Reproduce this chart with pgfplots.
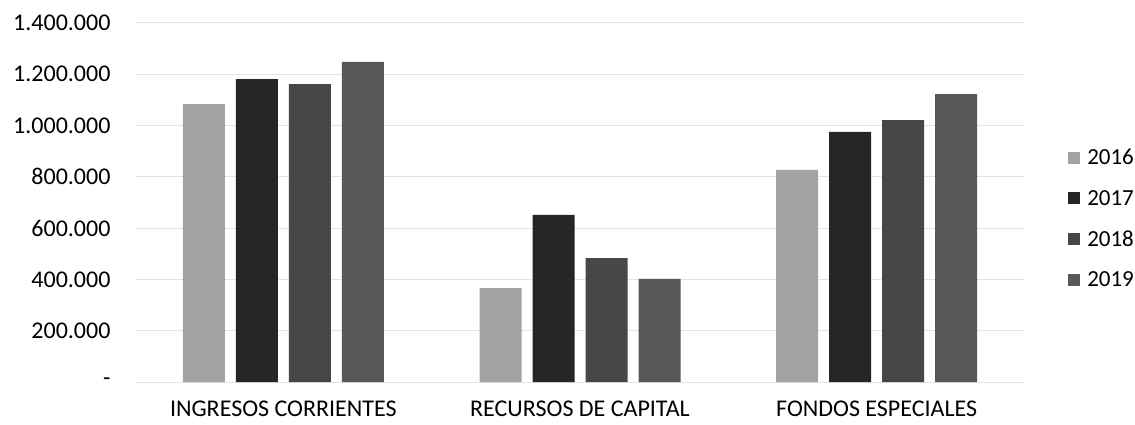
\documentclass[border=0pt]{standalone}
\usepackage{fontspec}
\setmainfont{Carlito}
\usepackage{pgfplots}
\pgfplotsset{compat=1.18}
\definecolor{c16}{HTML}{A3A3A3}
\definecolor{c17}{HTML}{262626}
\definecolor{c18}{HTML}{474747}
\definecolor{c19}{HTML}{585858}
\definecolor{gridc}{HTML}{E4E4E4}
\begin{document}
\begin{tikzpicture}
\begin{axis}[
  at={(0,0)}, anchor=south west,
  scale only axis, width=890pt, height=359pt,
  ybar=11pt, bar width=42pt,
  xmin=-0.5, xmax=2.5, ymin=0, ymax=1400000,
  xtick={0,1,2},
  xticklabels={\textnormal{INGRESOS CORRIENTES},\textnormal{RECURSOS DE CAPITAL},\textnormal{FONDOS ESPECIALES}},
  ytick={0,200000,400000,600000,800000,1000000,1200000,1400000},
  yticklabels={\textnormal{-},\textnormal{200.000},\textnormal{400.000},\textnormal{600.000},\textnormal{800.000},\textnormal{1.000.000},\textnormal{1.200.000},\textnormal{1.400.000}},
  scaled y ticks=false,
  axis line style={draw=none},
  major tick length=0pt,
  ymajorgrids, grid style={gridc, line width=1pt},
  xticklabel style={font=\fontsize{24}{28}\selectfont, yshift=-15pt},
  yticklabel style={font=\fontsize{24}{28}\selectfont, xshift=-21pt},
  legend style={at={(1.045,0.455)}, anchor=west, draw=none, fill=none,
    font=\fontsize{23}{27}\selectfont, row sep=20pt,
    legend cell align=left, /tikz/every even column/.append style={column sep=0pt}},
  legend image code/.code={\fill[#1] (0pt,-6pt) rectangle (12pt,6pt); \path (17pt,0pt);},
]
\addplot[fill=c16, draw=none] coordinates {(0,1084000) (1,366000) (2,827000)};
\addplot[fill=c17, draw=none] coordinates {(0,1181000) (1,652000) (2,975000)};
\addplot[fill=c18, draw=none] coordinates {(0,1162000) (1,483000) (2,1021000)};
\addplot[fill=c19, draw=none] coordinates {(0,1248000) (1,402000) (2,1123000)};
\legend{2016,2017,2018,2019}
\end{axis}
\pgfresetboundingbox
\path[use as bounding box] (-135pt,-42pt) rectangle (1000pt,382pt);
\end{tikzpicture}
\end{document}
